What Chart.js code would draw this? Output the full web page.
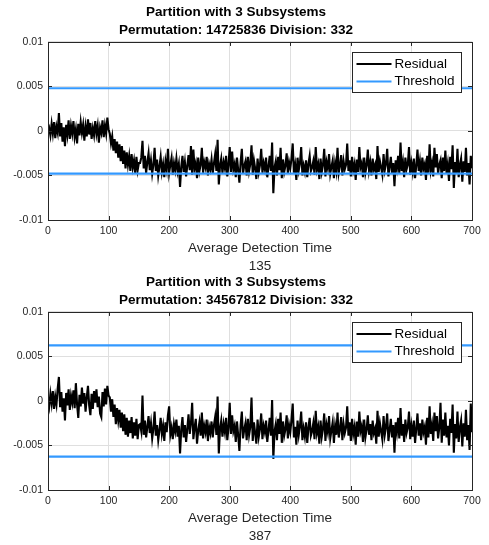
<!DOCTYPE html>
<html>
<head>
<meta charset="utf-8">
<script src="https://cdn.jsdelivr.net/npm/chart.js@4.4.1/dist/chart.umd.min.js"></script>
<style>
  body { margin: 0; background: #fff; }
  #wrap { position: relative; width: 489px; height: 545px; }
  canvas { position: absolute; left: 0; }
  #c1 { top: 0; }
  #c2 { top: 270px; }
</style>
</head>
<body>
<div id="wrap">
  <canvas id="c1" width="489" height="275"></canvas>
  <canvas id="c2" width="489" height="275"></canvas>
</div>
<script>
// residual samples every 2 time units, in units of 1e-4
const STEP = 2;
const resid1 = [
  -2, 3, -5, 8, -3, 10, -8, 5, -2, 20, -6, 9, -12, 4, -17, 7, -4, 12, -9, 6,
  -3, 11, -7, 2, -14, 8, -5, 10, -2, 7, -11, 5, -6, 13, -4, 9, -9, 3, -5, 11,
  -3, 6, -13, 4, -2, 12, -7, 6, -3, 15, 2,
  -3, -14, -6, -22, -9, -25, -12, -30, -15, -34, -17, -37, -22, -42, -24, -38,
  -28, -45, -26, -41, -33, -47, -29, -44, -36,
  -36, -30, -11, -42, -28, -47, -35, -25, -44, -33,
  -48, -38, -19, -45, -32, -50, -40, -29, -46, -37,
  -52, -34, -43, -20, -47, -38, -30, -49, -36, -44,
  -31, -45, -37, -63, -40, -28, -46, -35, -51, -39,
  -27, -44, -17, -49, -21, -42, -36, -53, -30, -45,
  -38, -19, -47, -35, -41, -29, -50, -37, -43, -32,
  -48, -36, -26, -45, -10, -60, -39, -31, -47, -35,
  -42, -28, -51, -38, -18, -46, -23, -43, -37, -52,
  -30, -44, -58, -35, -20, -48, -39, -34, -50, -29,
  -45, -37, -16, -49, -33, -42, -54, -31, -46, -38,
  -20, -47, -36, -43, -30, -52, -40, -28, -45, -13,
  -70, -41, -34, -50, -29, -44, -19, -53, -32, -46,
  -39, -25, -48, -35, -42, -31, -14, -47, -38, -55,
  -30, -44, -36, -18, -50, -39, -46, -33, -52, -37,
  -28, -45, -41, -34, -49, -18, -43, -37, -54, -31,
  -46, -38, -20, -51, -35, -42, -26, -48, -40, -33,
  -53, -36, -45, -19, -47, -39, -27, -50, -34, -43,
  -38, -14, -45, -33, -51, -29, -44, -37, -55, -32,
  -46, -18, -41, -36, -52, -30, -47, -39, -21, -44,
  -35, -50, -31, -43, -38, -54, -17, -46, -34, -41,
  -49, -26, -44, -37, -20, -51, -40, -29, -47, -36,
  -62, -33, -42, -28, -48, -13, -45, -35, -52, -30,
  -43, -38, -18, -49, -36, -46, -31, -53, -39, -21,
  -45, -34, -50, -30, -42, -37, -55, -28, -47, -15,
  -44, -36, -51, -19, -41, -26, -48, -38, -33, -53,
  -30, -45, -22, -47, -37, -56, -29, -43, -16, -64,
  -35, -48, -20, -52, -38, -31, -57, -34, -46, -19,
  -50, -36, -60, -28, -42
];
const resid2 = [
  3, -6, 8, -3, 11, -9, 5, -4, 14, 27, -7, 10, -12, 3, -22, 9, -5, 13, -10, 6,
  -2, 12, -8, 20, -4, -19, 7, -6, 15, -3, 9, -12, 4, 17, -5, -16, 8, -9, 11, -2,
  13, -7, 5, -14, -18, 10, -6, 14, -4, 17, 6,
  4, -12, 2, -18, -4, -26, -8, -22, -10, -30, -13, -34, -15, -38, -19, -40,
  -22, -36, -18, -42, -24, -39, -20, -43, -27,
  -26, -34, 6, -38, -22, -41, -29, -17, -36, -25,
  -42, -31, -12, -39, -27, -44, -33, -19, -37, -28,
  -45, -24, -35, -16, -6, -38, -30, -43, -26, -34,
  -21, -40, -28, -59, -32, -18, -41, -27, -46, -31,
  -15, -37, -25, -2, -43, -30, -20, -48, -33, -24,
  -39, -13, -42, -28, -35, -21, -45, -29, -36, -23,
  -41, -27, -18, -38, 5, -59, -31, -22, -40, -26,
  -35, -19, -44, -30, -2, -37, -16, -34, -28, -46,
  -23, -39, -56, -27, -12, -42, -32, -25, -44, -20,
  -38, -29, 4, -45, -24, -36, -48, -21, -40, -31,
  -14, -43, -28, -35, -22, -46, -33, -19, -39, 1,
  -65, -34, -26, -44, -20, -37, -13, -47, -23, -39,
  -32, -16, -42, -27, -35, -21, -3, -41, -29, -49,
  -22, -38, -28, -12, -44, -31, -40, -24, -47, -30,
  -19, -39, -34, -25, -43, -11, -36, -29, -48, -22,
  -40, -31, -14, -45, -27, -35, -17, -42, -33, -24,
  -47, -28, -38, -13, -41, -32, -18, -44, -26, -36,
  -30, -6, -39, -24, -45, -20, -37, -29, -49, -23,
  -40, -12, -34, -28, -46, -21, -41, -32, -16, -38,
  -26, -44, -22, -36, -31, -48, -11, -40, -25, -34,
  -43, -17, -38, -29, -14, -45, -33, -20, -41, -27,
  -58, -24, -35, -19, -42, -8, -39, -26, -46, -21,
  -36, -30, -12, -43, -28, -40, -22, -47, -31, -14,
  -39, -25, -44, -21, -35, -29, -49, -19, -41, -6,
  -37, -27, -45, -13, -34, -17, -42, -30, -2, -47,
  -21, -39, -13, -41, -28, -50, -20, -36, -4, -58,
  -26, -42, -12, -46, -30, -22, -51, -25, -40, -10,
  -44, -27, -55, -3, -35
];
const thresh1 = 0.0048;
const thresh2 = 0.00624;
const titles1 = ["Partition with 3 Subsystems", "Permutation: 14725836 Division: 332"];
const titles2 = ["Partition with 3 Subsystems", "Permutation: 34567812 Division: 332"];
const xLabel1 = ["Average Detection Time", "135"];
const xLabel2 = ["Average Detection Time", "387"];
const seriesNames = ["Residual", "Threshold"];

const FONT = "'Liberation Sans', Arial, Helvetica, sans-serif";
const BLUE = "rgb(51,153,255)";
const AXC = "#262626";

// box, inner ticks and the little legend
const framePlugin = {
  id: "frame",
  afterDraw(chart) {
    const ctx = chart.ctx;
    const ca = chart.chartArea;
    const xs = chart.scales.x, ys = chart.scales.y;
    ctx.save();
    ctx.strokeStyle = AXC;
    ctx.lineWidth = 1;
    ctx.beginPath();
    xs.ticks.forEach(t => {
      const px = Math.round(xs.getPixelForValue(t.value)) + 0.5;
      ctx.moveTo(px, ca.bottom); ctx.lineTo(px, ca.bottom - 4);
      ctx.moveTo(px, ca.top); ctx.lineTo(px, ca.top + 4);
    });
    ys.ticks.forEach(t => {
      const py = Math.round(ys.getPixelForValue(t.value)) + 0.5;
      ctx.moveTo(ca.left, py); ctx.lineTo(ca.left + 4, py);
      ctx.moveTo(ca.right, py); ctx.lineTo(ca.right - 4, py);
    });
    ctx.stroke();
    ctx.strokeRect(Math.round(ca.left) + 0.5, Math.round(ca.top) + 0.5,
      Math.round(ca.right - ca.left), Math.round(ca.bottom - ca.top));

    // legend
    const lx = Math.round(ca.right - 120) + 0.5, ly = Math.round(ca.top + 10) + 0.5;
    ctx.fillStyle = "#fff";
    ctx.fillRect(lx, ly, 109, 40);
    ctx.strokeRect(lx, ly, 109, 40);
    ctx.font = "13.5px " + FONT;
    ctx.textBaseline = "middle";
    const items = chart.data.datasets.filter(d => seriesNames.includes(d.label));
    items.sort((a, b) => seriesNames.indexOf(a.label) - seriesNames.indexOf(b.label));
    items.forEach((d, i) => {
      const y = ly + 11.5 + i * 17.5;
      ctx.strokeStyle = d.borderColor;
      ctx.lineWidth = 2;
      ctx.beginPath();
      ctx.moveTo(lx + 4, y); ctx.lineTo(lx + 39, y);
      ctx.stroke();
      ctx.fillStyle = "#000";
      ctx.fillText(d.label, lx + 42, y);
    });
    ctx.restore();
  }
};

function makeChart(id, resid, thresh, titles, xLabel) {
  const pts = resid.map((v, i) => ({ x: i * STEP, y: v * 1e-4 }));
  new Chart(document.getElementById(id), {
    type: "line",
    data: {
      datasets: [
        { label: "Residual", data: pts, borderColor: "#000", borderWidth: 2.1,
          pointRadius: 0, tension: 0, order: 2 },
        { label: "Threshold", data: [{ x: 0, y: thresh }, { x: 700, y: thresh }],
          borderColor: BLUE, borderWidth: 2.2, pointRadius: 0, order: 1 },
        { label: "", data: [{ x: 0, y: -thresh }, { x: 700, y: -thresh }],
          borderColor: BLUE, borderWidth: 2.2, pointRadius: 0, order: 1 }
      ]
    },
    options: {
      responsive: false,
      animation: false,
      layout: { padding: { left: 0, right: 17, top: 0, bottom: 0 } },
      plugins: {
        legend: { display: false },
        tooltip: { enabled: false },
        title: {
          display: true,
          text: titles,
          color: "#000",
          font: { family: FONT, size: 13.5, weight: "bold", lineHeight: 1.28 },
          padding: { top: 4, bottom: 3.4 }
        }
      },
      scales: {
        x: {
          type: "linear",
          min: 0, max: 700,
          ticks: { stepSize: 100, color: AXC, padding: 5, maxRotation: 0,
            font: { family: FONT, size: 10.5 } },
          grid: { color: "#dfdfdf", drawTicks: false },
          border: { display: false },
          title: { display: true, text: xLabel, color: AXC,
            font: { family: FONT, size: 13.5, lineHeight: 1.33 },
            padding: { top: 0, bottom: 0 } },
          afterFit(s) { s.height = 55; }
        },
        y: {
          min: -0.01, max: 0.01,
          ticks: { stepSize: 0.005, color: AXC, padding: 5,
            font: { family: FONT, size: 10.5 },
            callback: v => String(Number(v.toFixed(4))) },
          grid: { color: "#dfdfdf", drawTicks: false },
          border: { display: false },
          afterFit(s) { s.width = 48; }
        }
      }
    },
    plugins: [framePlugin]
  });
}

makeChart("c1", resid1, thresh1, titles1, xLabel1);
makeChart("c2", resid2, thresh2, titles2, xLabel2);
</script>
</body>
</html>
